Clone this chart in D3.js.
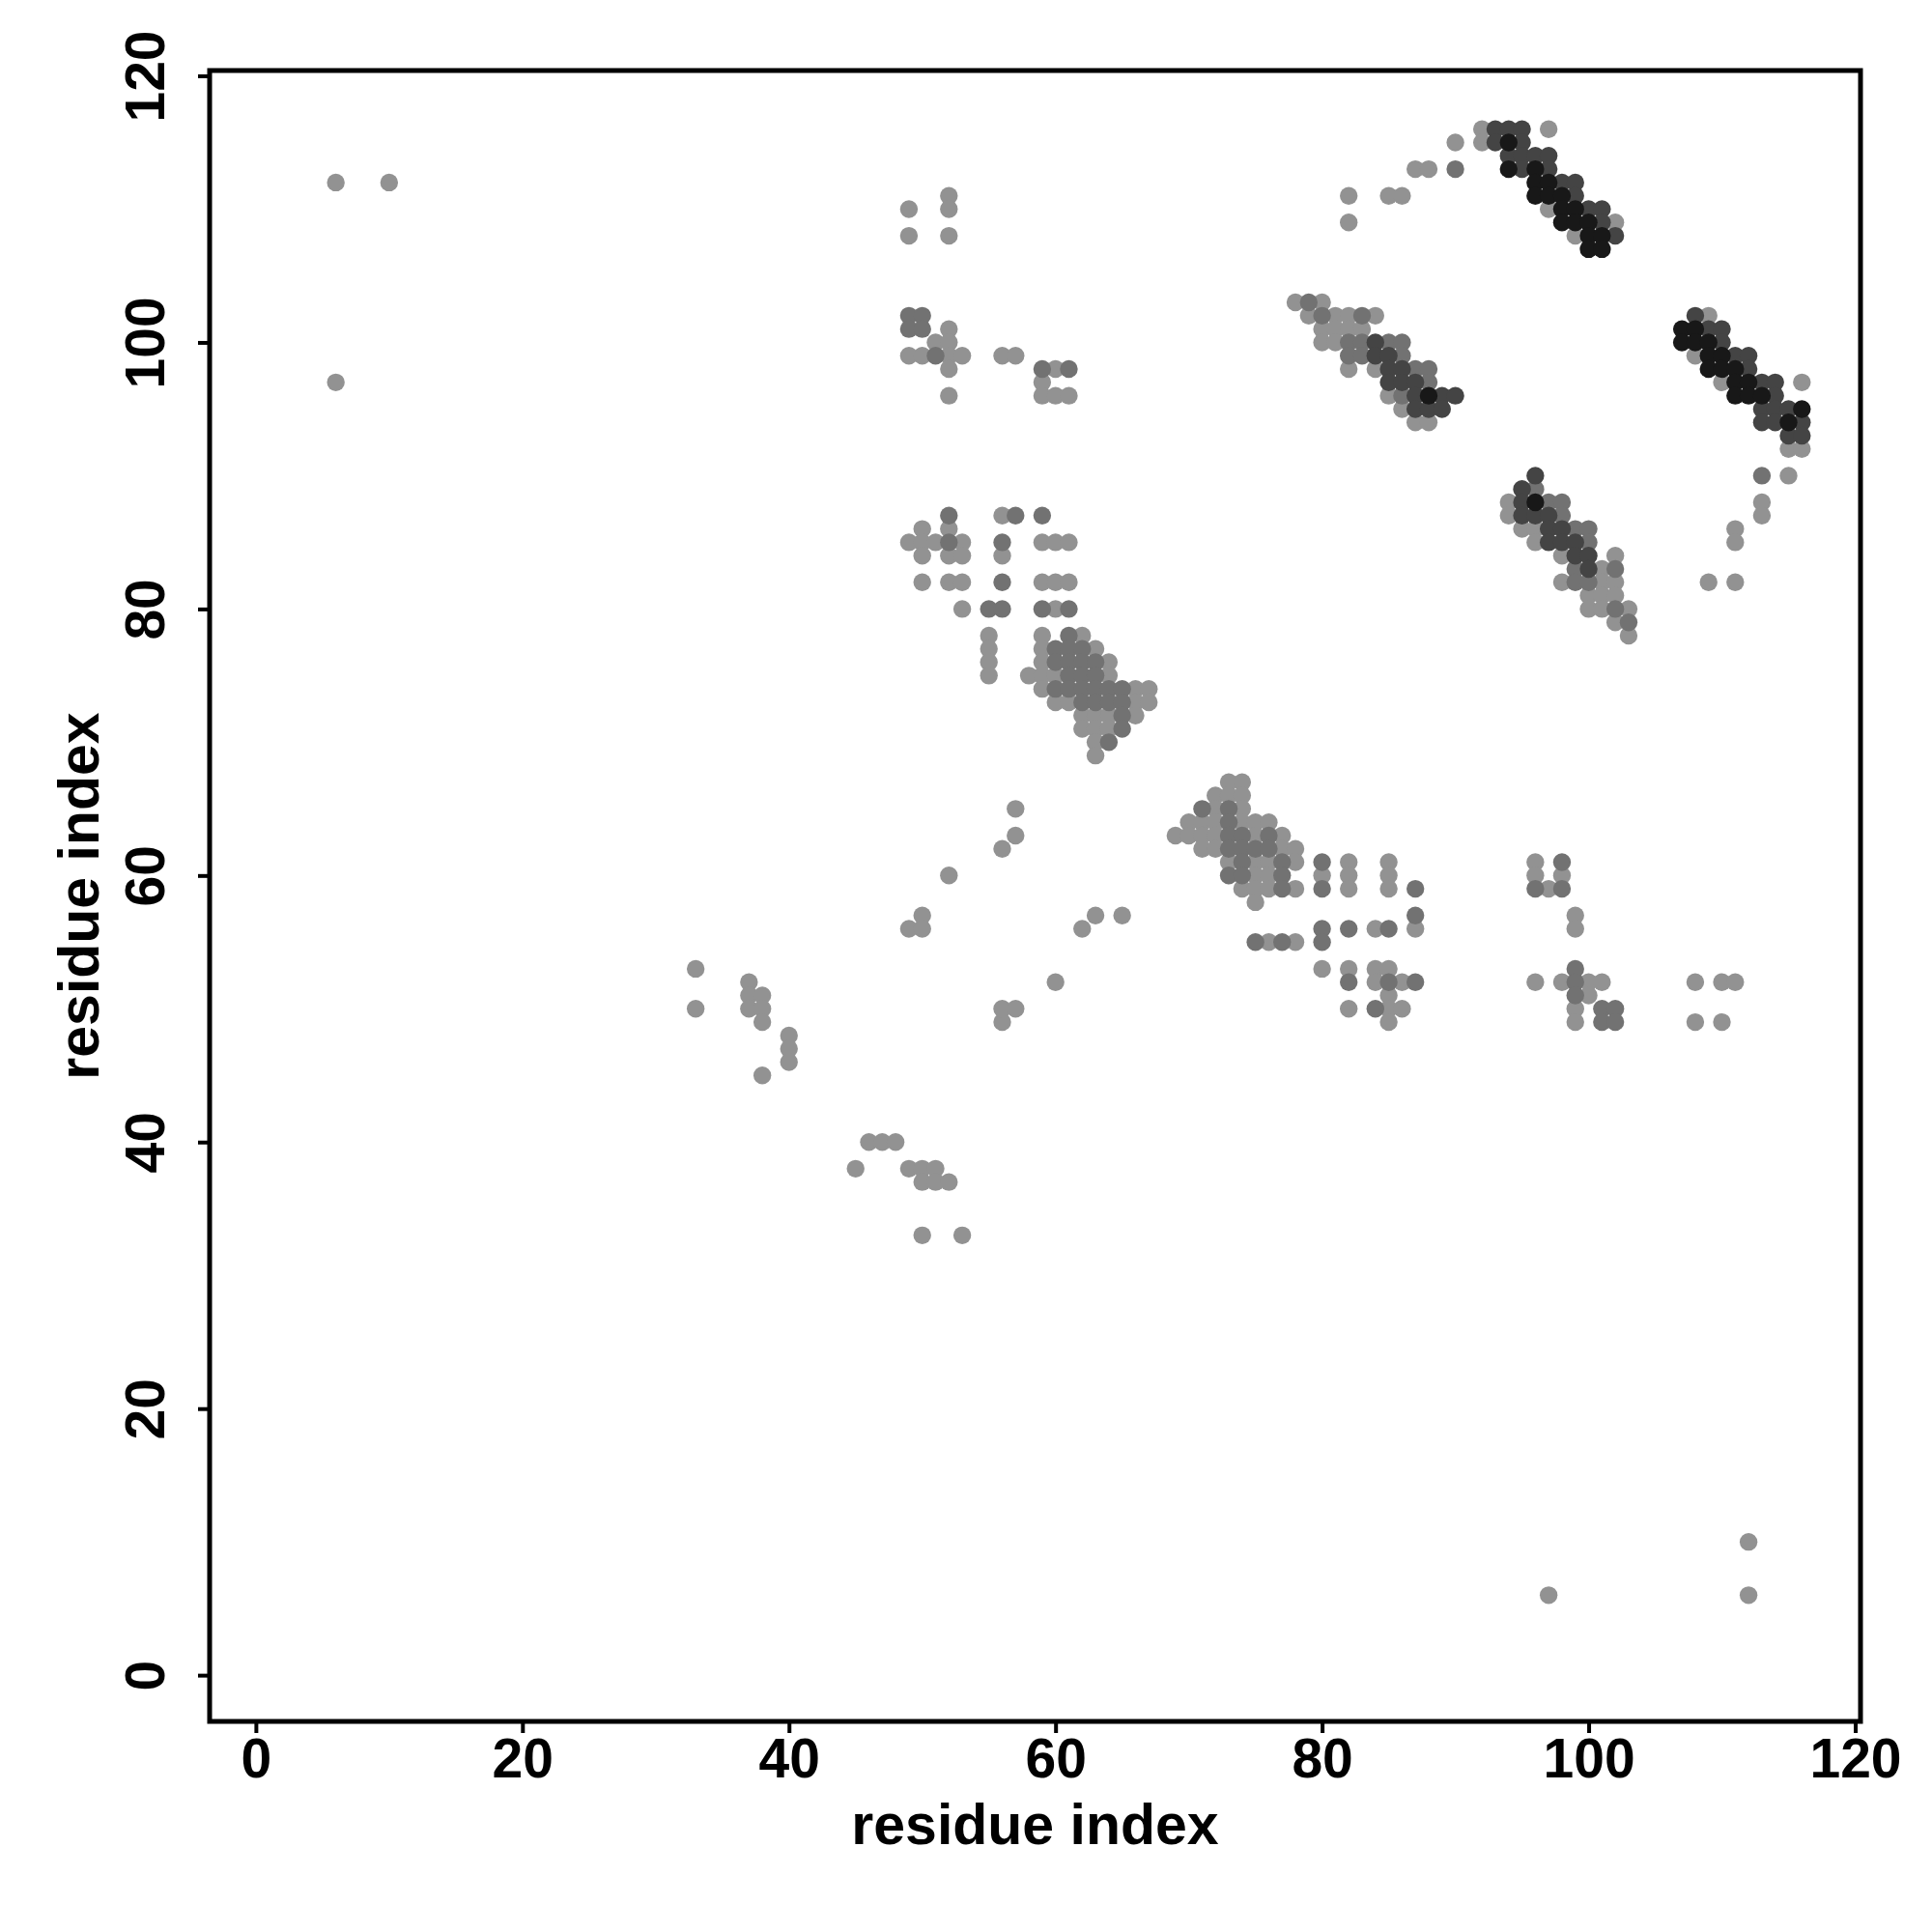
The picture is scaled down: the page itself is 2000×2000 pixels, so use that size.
<!DOCTYPE html>
<html lang="en">
<head>
<meta charset="UTF-8">
<title>Contact map</title>
<script src="https://d3js.org/d3.v7.min.js"></script>
<style>
    body { margin: 0; background: #fff; }
    svg text { font-family: "Liberation Sans", Arial, sans-serif; font-weight: bold; fill: #000; }
</style>
</head>
<body>
<div id="chart"></div>
<script>
// contacts as [residue i, residue j, confidence level 1..4]
const topStrands = [
    [82,111,1],[82,109,1],[85,111,1],[86,111,1],[87,113,1],[88,113,1],[90,115,1],[90,113,2],
    [92,116,1],[93,116,3],[94,116,3],[95,116,3],[97,116,1],
    [92,115,1],[93,115,3],[94,115,4],[95,115,3],
    [94,114,3],[95,114,3],[96,114,3],[97,114,3],
    [94,113,4],[95,113,3],[96,113,4],[97,113,3],
    [96,112,4],[97,112,4],[98,112,3],[99,112,3],
    [96,111,4],[97,111,4],[98,111,4],[99,111,3],
    [97,110,1],[98,110,4],[99,110,4],[100,110,3],[101,110,3],
    [98,109,4],[99,109,4],[100,109,4],[101,109,3],[102,109,1],
    [99,108,1],[100,108,4],[101,108,4],[102,108,3],
    [100,107,4],[101,107,4]
];
const midStrands = [
    [78,103,1],[79,103,2],[80,103,1],
    [79,102,1],[80,102,2],[81,102,1],[82,102,1],[83,102,2],[84,102,1],
    [80,101,1],[81,101,1],[82,101,1],[83,101,1],
    [80,100,1],[81,100,1],[82,100,2],[83,100,2],[84,100,3],[85,100,2],[86,100,2],
    [82,99,2],[83,99,2],[84,99,3],[85,99,3],[86,99,2],
    [82,98,1],[84,98,1],[85,98,3],[86,98,3],[87,98,2],[88,98,2],
    [85,97,3],[86,97,3],[87,97,3],[88,97,2],
    [85,96,1],[86,96,2],[87,96,3],[88,96,4],[89,96,3],[90,96,3],
    [86,95,1],[87,95,3],[88,95,3],[89,95,3],
    [87,94,1],[88,94,1]
];
const rightStrands = [
    [108,102,3],[109,102,1],
    [107,101,4],[108,101,4],[109,101,3],[110,101,3],
    [107,100,4],[108,100,4],[109,100,4],[110,100,3],
    [108,99,1],[109,99,4],[110,99,4],[111,99,3],[112,99,3],
    [109,98,4],[110,98,4],[111,98,4],[112,98,3],
    [110,97,1],[111,97,4],[112,97,4],[113,97,3],[114,97,3],[116,97,1],
    [111,96,4],[112,96,4],[113,96,4],[114,96,3],
    [113,95,3],[114,95,3],[115,95,3],[116,95,4],
    [113,94,3],[114,94,3],[115,94,4],[116,94,3],
    [115,93,3],[116,93,3],
    [115,92,1],[116,92,1],
    [113,90,2],[115,90,1],[113,88,1],[113,87,1],
    [111,86,1],[111,85,1],[109,82,1],[111,82,1]
];
const lowerStrands = [
    [96,90,3],
    [95,89,3],[96,89,2],
    [94,88,1],[95,88,3],[96,88,4],[97,88,2],[98,88,2],
    [94,87,1],[95,87,3],[96,87,3],[97,87,3],[98,87,2],
    [95,86,1],[96,86,1],[97,86,3],[98,86,3],[99,86,2],[100,86,2],
    [96,85,1],[97,85,3],[98,85,3],[99,85,3],[100,85,2],
    [98,84,1],[99,84,3],[100,84,3],[102,84,1],
    [99,83,2],[100,83,3],[101,83,1],[102,83,2],
    [98,82,1],[99,82,2],[100,82,2],[101,82,1],[102,82,1],
    [100,81,1],[101,81,1],[102,81,1],
    [100,80,1],[101,80,1],[102,80,2],[103,80,1],
    [102,79,1],[103,79,2],
    [103,78,1]
];
const helixBlockA = [
    [52,87,2],[56,87,1],[57,87,2],[59,87,2],
    [50,86,1],[52,86,1],
    [49,85,1],[50,85,1],[51,85,1],[52,85,2],[53,85,1],[56,85,2],[59,85,1],[60,85,1],[61,85,1],
    [50,84,1],[52,84,1],[53,84,1],[56,84,1],
    [50,82,1],[52,82,1],[53,82,1],[56,82,2],[59,82,1],[60,82,1],[61,82,1],
    [53,80,1],[55,80,2],[56,80,2],[59,80,2],[60,80,1],[61,80,2],
    [55,78,1],[59,78,1],[61,78,2],[62,78,1],
    [55,77,1],[59,77,1],[60,77,2],[61,77,2],[62,77,2],[63,77,1],
    [55,76,1],[59,76,1],[60,76,2],[61,76,2],[62,76,2],[63,76,2],[64,76,1],
    [55,75,1],[58,75,1],[59,75,1],[60,75,1],[61,75,2],[62,75,2],[63,75,2],[64,75,1],
    [59,74,1],[60,74,2],[61,74,2],[62,74,2],[63,74,2],[64,74,2],[65,74,2],[66,74,1],[67,74,1],
    [60,73,1],[61,73,1],[62,73,2],[63,73,2],[64,73,2],[65,73,2],[66,73,1],[67,73,1],
    [62,72,1],[63,72,1],[64,72,1],[65,72,2],[66,72,1],
    [62,71,1],[63,71,1],[64,71,1],[65,71,2],
    [63,70,1],[64,70,2],
    [63,69,1]
];
const helixBlockB = [
    [52,111,1],[49,110,1],[52,110,1],[49,108,1],[52,108,1],
    [49,102,2],[50,102,2],
    [49,101,2],[50,101,2],[52,101,1],
    [51,100,1],[52,100,1],
    [49,99,1],[50,99,1],[51,99,2],[52,99,1],[53,99,1],[56,99,1],[57,99,1],
    [52,98,1],[59,98,2],[60,98,1],[61,98,2],
    [59,97,1],
    [52,96,1],[59,96,1],[60,96,1],[61,96,1]
];
const helixBlockC = [
    [73,67,1],[74,67,1],
    [72,66,1],[73,66,1],[74,66,1],
    [71,65,2],[72,65,1],[73,65,2],[74,65,1],
    [70,64,1],[71,64,1],[72,64,1],[73,64,2],[74,64,1],[75,64,1],[76,64,1],
    [69,63,1],[70,63,1],[71,63,1],[72,63,1],[73,63,2],[74,63,2],[75,63,1],[76,63,2],[77,63,1],
    [71,62,1],[72,62,1],[73,62,2],[74,62,2],[75,62,2],[76,62,2],[77,62,1],[78,62,1],
    [73,61,1],[74,61,2],[75,61,1],[76,61,1],[77,61,2],[78,61,1],[80,61,2],[82,61,1],[85,61,1],
    [73,60,2],[74,60,2],[75,60,1],[76,60,1],[77,60,2],[80,60,1],[82,60,1],[85,60,1],
    [74,59,1],[75,59,1],[76,59,1],[77,59,2],[78,59,1],[80,59,2],[82,59,1],[85,59,1],[87,59,2],
    [75,58,1],[87,57,2],
    [80,56,2],[82,56,2],[84,56,1],[85,56,2],[87,56,1],
    [75,55,2],[76,55,1],[77,55,2],[78,55,1],[80,55,2],
    [80,53,1],[82,53,1],[84,53,1],[85,53,1],
    [82,52,2],[84,52,1],[85,52,2],[86,52,1],[87,52,2],
    [85,51,1],
    [82,50,1],[84,50,2],[85,50,1],[86,50,1],
    [85,49,1]
];
const helixBlockD = [
    [96,61,1],[98,61,2],
    [96,60,1],[98,60,1],
    [96,59,2],[97,59,1],[98,59,2],
    [99,57,1],[99,56,1],[99,53,2],
    [96,52,1],[98,52,1],[99,52,2],[100,52,1],[101,52,1],[108,52,1],[110,52,1],[111,52,1],
    [99,51,2],[100,51,1],
    [99,50,1],[101,50,2],[102,50,2],
    [99,49,1],[101,49,2],[102,49,2],[108,49,1],[110,49,1]
];
const scattered = [
    [52,60,1],[50,57,1],[49,56,1],[50,56,1],
    [33,53,1],[33,50,1],
    [37,52,1],[37,51,1],[37,50,1],[38,51,1],[38,50,1],[38,49,1],
    [40,48,1],[40,47,1],[40,46,1],[38,45,1],
    [45,38,1],[46,40,1],[47,40,1],[48,40,1],
    [49,38,1],[50,38,1],[51,38,1],[50,37,1],[51,37,1],[52,37,1],
    [50,33,1],[53,33,1],
    [57,65,1],[57,63,1],[56,62,1],
    [63,57,1],[62,56,1],[65,57,1],[60,52,1],
    [56,49,1],[56,50,1],[57,50,1],
    [6,112,1],[10,112,1],[6,97,1],
    [97,6,1],[112,10,1],[112,6,1]
];
const xTicks = [0, 20, 40, 60, 80, 100, 120];
const yTicks = [0, 20, 40, 60, 80, 100, 120];
const xLabel = 'residue index';
const yLabel = 'residue index';

const width = 2000, height = 2000;
const margin = { top: 73, right: 74, bottom: 218, left: 217 };

const svg = d3.select('#chart').append('svg')
    .attr('width', width)
    .attr('height', height);

const x = d3.scaleLinear()
    .domain([-3.47, 120.4])
    .range([margin.left, width - margin.right]);

const y = d3.scaleLinear()
    .domain([-3.47, 120.4])
    .range([height - margin.bottom, margin.top]);

const shade = d3.scaleOrdinal()
    .domain([1, 2, 3, 4])
    .range(['#929292', '#727272', '#444444', '#181818']);

const contacts = [].concat(scattered, helixBlockA, helixBlockB, helixBlockC, helixBlockD,
    midStrands, lowerStrands, topStrands, rightStrands)
    .sort((a, b) => a[2] - b[2]);

svg.append('g')
    .selectAll('circle')
    .data(contacts)
    .join('circle')
    .attr('cx', d => x(d[0]))
    .attr('cy', d => y(d[1]))
    .attr('r', 9.2)
    .attr('fill', d => shade(d[2]));

// plot box
svg.append('rect')
    .attr('x', margin.left)
    .attr('y', margin.top)
    .attr('width', width - margin.left - margin.right)
    .attr('height', height - margin.top - margin.bottom)
    .attr('fill', 'none')
    .attr('stroke', '#000')
    .attr('stroke-width', 5);

const xAxis = svg.append('g')
    .attr('transform', `translate(0,${height - margin.bottom})`)
    .call(d3.axisBottom(x).tickValues(xTicks).tickSize(12).tickPadding(6).tickFormat(d3.format('d')));
xAxis.select('.domain').remove();
xAxis.selectAll('line').attr('stroke-width', 4);
xAxis.selectAll('text').attr('font-size', 57).attr('dy', '0.71em');

const yAxis = svg.append('g')
    .attr('transform', `translate(${margin.left},0)`)
    .call(d3.axisLeft(y).tickValues(yTicks).tickSize(12).tickFormat(d3.format('d')));
yAxis.select('.domain').remove();
yAxis.selectAll('line').attr('stroke-width', 4);
yAxis.selectAll('text')
    .attr('font-size', 57)
    .attr('x', null).attr('dy', null)
    .attr('text-anchor', 'middle')
    .attr('transform', 'translate(-47,0) rotate(-90)');

svg.append('text')
    .attr('x', (margin.left + width - margin.right) / 2)
    .attr('y', 1909)
    .attr('text-anchor', 'middle')
    .attr('font-size', 59)
    .text(xLabel);

svg.append('text')
    .attr('transform', `translate(102,${(margin.top + height - margin.bottom) / 2}) rotate(-90)`)
    .attr('text-anchor', 'middle')
    .attr('font-size', 59)
    .text(yLabel);
</script>
</body>
</html>
